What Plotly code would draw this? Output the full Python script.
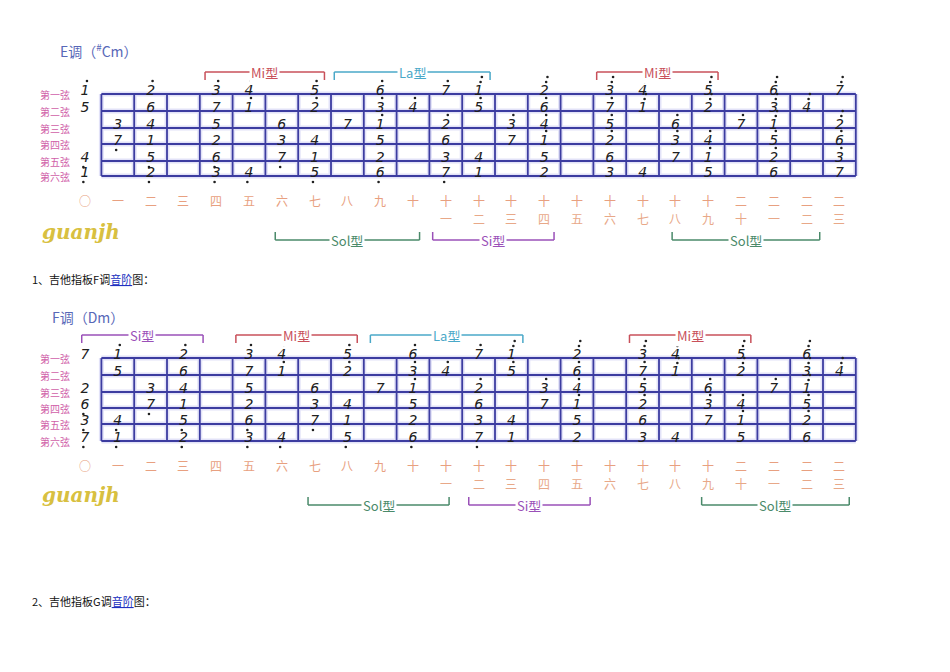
import plotly.graph_objects as go

# ---------------- data ----------------
string_names = ["第一弦", "第二弦", "第三弦", "第四弦", "第五弦", "第六弦"]
fret_row1 = ["○","一","二","三","四","五","六","七","八","九","十","十","十","十","十","十","十","十","十","十","二","二","二","二"]
fret_row2 = ["","","","","","","","","","","","一","二","三","四","五","六","七","八","九","十","一","二","三"]

# note notation: ' = dot above (higher octave), '' = two dots, , = dot below
E_s1 = {0:"1'",2:"2'",4:"3'",5:"4'",7:"5'",9:"6'",11:"7'",12:"1''",14:"2''",16:"3''",17:"4''",19:"5''",21:"6''",23:"7''"}
E_s2 = {0:"5",2:"6",4:"7",5:"1'",7:"2'",9:"3'",10:"4'",12:"5'",14:"6'",16:"7'",17:"1''",19:"2''",21:"3''",22:"4''"}
E_s3 = {1:"3",2:"4",4:"5",6:"6",8:"7",9:"1'",11:"2'",13:"3'",14:"4'",16:"5'",18:"6'",20:"7'",21:"1''",23:"2''"}
E_s4 = {1:"7,",2:"1",4:"2",6:"3",7:"4",9:"5",11:"6",13:"7",14:"1'",16:"2'",18:"3'",19:"4'",21:"5'",23:"6'"}
E_s5 = {0:"4,",2:"5,",4:"6,",6:"7,",7:"1",9:"2",11:"3",12:"4",14:"5",16:"6",18:"7",19:"1'",21:"2'",23:"3'"}
E_s6 = {0:"1,",2:"2,",4:"3,",5:"4,",7:"5,",9:"6,",11:"7,",12:"1",14:"2",16:"3",17:"4",19:"5",21:"6",23:"7"}

F_s1 = {0:"7",1:"1'",3:"2'",5:"3'",6:"4'",8:"5'",10:"6'",12:"7'",13:"1''",15:"2''",17:"3''",18:"4''",20:"5''",22:"6''"}
F_s2 = {1:"5",3:"6",5:"7",6:"1'",8:"2'",10:"3'",11:"4'",13:"5'",15:"6'",17:"7'",18:"1''",20:"2''",22:"3''",23:"4''"}
F_s3 = {0:"2",2:"3",3:"4",5:"5",7:"6",9:"7",10:"1'",12:"2'",14:"3'",15:"4'",17:"5'",19:"6'",21:"7'",22:"1''"}
F_s4 = {0:"6,",2:"7,",3:"1",5:"2",7:"3",8:"4",10:"5",12:"6",14:"7",15:"1'",17:"2'",19:"3'",20:"4'",22:"5'"}
F_s5 = {0:"3,",1:"4,",3:"5,",5:"6,",7:"7,",8:"1",10:"2",12:"3",13:"4",15:"5",17:"6",19:"7",20:"1'",22:"2'"}
F_s6 = {0:"7,",1:"1,",3:"2,",5:"3,",6:"4,",8:"5,",10:"6,",12:"7,",13:"1",15:"2",17:"3",18:"4",20:"5",22:"6"}

E_top = [("Mi型", 3.66, 7.3), ("La型", 7.6, 12.35), ("Mi型", 15.6, 19.3)]
E_bot = [("Sol型", 5.8, 10.2), ("Si型", 10.6, 14.3), ("Sol型", 17.9, 22.4)]
F_top = [("Si型", -0.1, 3.6), ("Mi型", 4.6, 8.3), ("La型", 8.7, 13.35), ("Mi型", 16.6, 20.3)]
F_bot = [("Sol型", 6.8, 11.1), ("Si型", 11.7, 15.4), ("Sol型", 18.8, 23.3)]

# ---------------- layout helpers ----------------
X0, DX = 85.0, 32.8
OFF = 8  # page body margin
XR = [(OFF - X0) / DX, (950 + OFF - X0) / DX]
shape_colors = {"Mi": "#c8505a", "La": "#4aa8c8", "Si": "#9a50b8", "Sol": "#4a8a6a"}

fig = go.Figure()
shapes, annots = [], []

def diagram(strings, ys, title, title_xy, top, top_y, bot, bot_y, lab_y, logo_y):
    for col, w in (("#e2e2f8", 5), ("#3c3ca0", 1.8)):
        for y in ys:
            shapes.append(dict(type="line", x0=0.5, x1=23.5, y0=y, y1=y, line=dict(color=col, width=w), layer="below"))
        for f in range(24):
            shapes.append(dict(type="line", x0=f + 0.5, x1=f + 0.5, y0=ys[0], y1=ys[-1], line=dict(color=col, width=w), layer="below"))
    xs, yv, tx = [], [], []
    dx, dy = [], []
    for s, d in enumerate(strings):
        for f, n in d.items():
            y = ys[s] - 3
            xs.append(f); yv.append(y); tx.append(n[0])
            if n.endswith("''"):
                dx += [f + 0.06, f + 0.1]; dy += [y - 9, y - 14]
            elif n.endswith("'"):
                dx.append(f + 0.06); dy.append(y - 10)
            elif n.endswith(","):
                dx.append(f - 0.05); dy.append(y + 9)
    fig.add_trace(go.Scatter(x=xs, y=yv, mode="text", text=tx,
                             textfont=dict(family="DejaVu Sans", size=14, color="#202020", style="italic"),
                             hoverinfo="skip", showlegend=False))
    fig.add_trace(go.Scatter(x=dx, y=dy, mode="markers", marker=dict(size=2.6, color="#202020"),
                             hoverinfo="skip", showlegend=False))
    for s, nm in enumerate(string_names):
        annots.append(dict(x=(55 - X0) / DX, y=ys[s], text=nm, showarrow=False,
                           font=dict(family="Noto Sans CJK SC", size=10, color="#d060a8")))
    for f in range(24):
        annots.append(dict(x=f, y=lab_y, text=fret_row1[f], showarrow=False,
                           font=dict(family="Noto Sans CJK SC", size=12, color="#e8a080")))
        if fret_row2[f]:
            annots.append(dict(x=f, y=lab_y + 18, text=fret_row2[f], showarrow=False,
                               font=dict(family="Noto Sans CJK SC", size=12, color="#e8a888")))
    annots.append(dict(x=(title_xy[0] - X0) / DX, y=title_xy[1], text=title, showarrow=False, xanchor="left",
                       font=dict(family="Noto Sans CJK SC", size=14, color="#5868b8")))
    for items, y, sgn in ((top, top_y, 1), (bot, bot_y, -1)):
        for lab, a, b in items:
            c = shape_colors[lab[:-1]]
            shapes.append(dict(type="line", x0=a, x1=b, y0=y, y1=y, line=dict(color=c, width=1.5)))
            for xx in (a, b):
                shapes.append(dict(type="line", x0=xx, x1=xx, y0=y, y1=y + 8 * sgn, line=dict(color=c, width=1.5)))
            annots.append(dict(x=(a + b) / 2, y=y, text=lab, showarrow=False,
                               bgcolor="white", font=dict(family="Noto Sans CJK SC", size=13, color=c)))
    annots.append(dict(x=(40 - X0) / DX, y=logo_y, text="<i><b>guanjh</b></i>", showarrow=False, xanchor="left",
                       font=dict(family="DejaVu Serif", size=20, color="#d8c040")))

diagram([E_s1, E_s2, E_s3, E_s4, E_s5, E_s6], [94, 111, 128, 144, 161, 176],
        "E调（<sup>#</sup>Cm）", (58, 50), E_top, 72, E_bot, 240, 200, 232)
diagram([F_s1, F_s2, F_s3, F_s4, F_s5, F_s6], [358, 375, 392, 408, 424, 441],
        "F调（Dm）", (50, 317), F_top, 335, F_bot, 505, 465, 495)

for txt, y in (("1、吉他指板F调<span style='color:#2030c0'><u>音阶</u></span>图：", 279),
               ("2、吉他指板G调<span style='color:#2030c0'><u>音阶</u></span>图：", 601)):
    annots.append(dict(x=(30 - X0) / DX, y=y, text=txt, showarrow=False, xanchor="left",
                       font=dict(family="Noto Sans CJK SC", size=11, color="#111")))

fig.update_layout(width=950, height=672, margin=dict(l=0, r=0, t=0, b=0),
                  plot_bgcolor="white", paper_bgcolor="white",
                  xaxis=dict(range=XR, visible=False, fixedrange=True),
                  yaxis=dict(range=[672 + OFF, OFF], visible=False, fixedrange=True),
                  shapes=shapes, annotations=annots)
fig.write_html("out.html")
